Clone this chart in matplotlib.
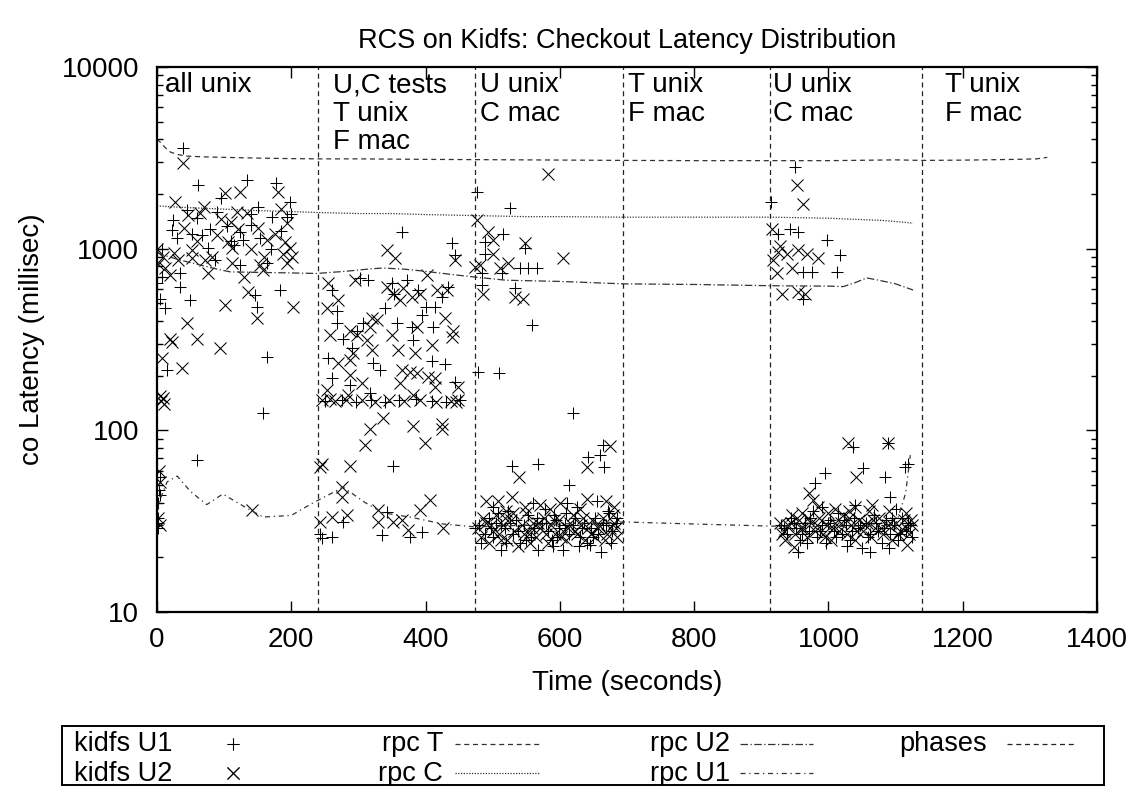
import matplotlib
matplotlib.use("Agg")
import matplotlib.pyplot as plt

plt.rcParams['font.family'] = ['Liberation Sans', 'DejaVu Sans']

# phase boundaries (seconds) and the text written at the top of each phase
phase_edges = [240, 474, 694, 913, 1139]
phase_text_x = [12, 262, 481, 701, 917, 1173]
phase_text = ["all unix", "U,C tests\nT unix\nF mac", "U unix\nC mac",
              "T unix\nF mac", "U unix\nC mac", "T unix\nF mac"]

# rpc latency curves (seconds, millisec)
rpcT_t = [0, 5, 12, 20, 30, 45, 70, 100, 150, 200, 240, 300, 400, 474, 550, 694,
          800, 913, 1000, 1100, 1139, 1200, 1280, 1310, 1326]
rpcT_ms = [4000, 3850, 3600, 3400, 3300, 3230, 3200, 3180, 3150, 3130, 3120, 3120,
           3100, 3090, 3080, 3060, 3050, 3050, 3050, 3080, 3060, 3070, 3100, 3120, 3180]

rpcC_t = [0, 20, 50, 100, 150, 200, 240, 300, 350, 400, 474, 550, 600, 694, 800,
          913, 960, 1000, 1040, 1080, 1110, 1126]
rpcC_ms = [1720, 1700, 1680, 1650, 1620, 1600, 1580, 1560, 1560, 1540, 1520, 1500,
           1500, 1490, 1490, 1490, 1480, 1470, 1450, 1430, 1400, 1380]

rpcU2_t = [0, 10, 34, 60, 90, 109, 150, 200, 238, 280, 320, 337, 370, 400, 440, 474,
           520, 600, 694, 800, 913, 960, 1000, 1022, 1040, 1057, 1075, 1100, 1126]
rpcU2_ms = [950, 920, 866, 820, 770, 745, 740, 735, 730, 750, 775, 782, 770, 750, 720,
            697, 670, 660, 640, 635, 625, 623, 622, 618, 650, 690, 670, 640, 592]

rpcU1_t = [0, 5, 15, 30, 50, 74, 98, 130, 158, 200, 232, 260, 277, 310, 337, 377,
           426, 474, 600, 694, 800, 913, 1000, 1100, 1115, 1122]
rpcU1_ms = [36, 42, 52, 56, 46, 39, 44.6, 38, 33.3, 34, 39.8, 45, 48.7, 40, 35.1, 33.3,
            30.5, 29.4, 30.5, 31.3, 30.5, 29.7, 29.5, 30, 45, 73]

# kidfs U1 checkouts (+), one list per phase: (seconds, millisec)
u1_all_unix = [(39, 3580), (61, 2240), (134, 2400), (177, 2300), (198, 1810), (45, 1630),
               (171, 1490), (194, 1490), (24, 1430), (22, 1260), (52, 1210), (124, 1230),
               (104, 1330), (79, 1290), (67, 1190), (128, 1110), (153, 1140), (76, 1010),
               (86, 866), (34, 730), (7, 700), (124, 810), (164, 830), (34, 615), (49, 521),
               (146, 555), (183, 590), (149, 475), (4, 530), (164, 253), (15, 215),
               (158, 124), (60, 69), (4, 55), (3, 47), (2, 31), (2, 29), (0, 650),
               (12, 470), (8, 1000), (150, 1700), (95, 1900), (200, 1550), (185, 1250),
               (110, 1100), (60, 1480), (90, 1600), (30, 1150), (140, 1550), (170, 1000),
               (115, 1050), (140, 1350), (2, 40), (5, 44), (1, 33)]
u1_uc_tests = [(365, 1230), (439, 1070), (444, 920), (261, 590), (268, 455), (302, 685),
               (314, 670), (350, 650), (372, 670), (389, 590), (434, 615), (414, 475),
               (411, 370), (380, 370), (357, 390), (307, 390), (298, 350), (268, 390),
               (277, 320), (381, 313), (409, 240), (429, 232), (322, 235), (261, 193),
               (332, 214), (287, 177), (444, 185), (317, 161), (352, 64), (277, 31.4),
               (246, 25.5), (261, 25.8), (243, 27), (342, 35.5), (335, 26.5), (377, 25.8),
               (395, 27.5), (474, 29), (250, 145), (275, 146), (296, 143), (318, 147),
               (340, 144), (360, 146), (385, 148), (410, 145), (430, 144), (452, 146),
               (340, 470), (395, 430), (425, 540), (255, 250), (290, 285), (353, 560),
               (400, 480)]
u1_u_unix = [(477, 2050), (526, 1670), (515, 1210), (489, 1090), (548, 1010), (489, 940),
             (541, 780), (553, 780), (566, 780), (484, 730), (514, 730), (484, 630),
             (533, 605), (558, 380), (478, 210), (509, 207), (620, 124), (664, 83),
             (642, 71), (660, 73), (666, 63), (529, 64), (567, 65), (614, 50),
             (480, 30), (488, 27), (495, 33), (500, 26), (505, 31), (512, 22), (518, 29),
             (523, 36), (530, 27), (535, 32), (540, 24), (546, 30), (552, 34), (557, 26),
             (562, 29), (568, 22), (573, 31), (578, 37), (583, 28), (588, 25), (594, 32),
             (599, 29), (604, 22), (609, 35), (614, 27), (620, 30), (625, 38), (630, 26),
             (636, 31), (641, 24), (646, 29), (652, 33), (657, 27), (662, 21.5), (668, 30),
             (673, 35), (678, 28), (683, 31), (500, 38), (560, 40), (610, 40), (655, 41),
             (520, 24), (590, 23), (645, 23.5),
             (482, 24), (497, 29), (508, 35), (526, 31), (537, 28), (549, 25), (566, 33),
             (580, 31), (596, 26), (607, 30), (622, 33), (633, 29), (649, 26), (664, 31),
             (676, 24), (685, 33), (513, 30), (591, 34), (628, 23), (671, 36)]
u1_u_unix2 = [(950, 2800), (915, 1810), (925, 1210), (943, 1290), (955, 1230), (998, 1110),
              (1017, 920), (962, 745), (975, 745), (1013, 745), (962, 530), (1037, 81),
              (1089, 85), (995, 58), (1052, 62), (1114, 63), (1084, 55), (980, 51),
              (1092, 43), (955, 21.4), (1062, 21.4), (1118, 65),
              (930, 30), (938, 27), (945, 33), (952, 29), (958, 25), (965, 31), (971, 28),
              (977, 36), (983, 26), (990, 30), (996, 24), (1002, 32), (1008, 28),
              (1014, 35), (1020, 27), (1026, 30), (1032, 25), (1038, 33), (1044, 29),
              (1050, 22.5), (1056, 31), (1062, 27), (1068, 34), (1074, 28), (1080, 24),
              (1086, 32), (1092, 27), (1098, 30), (1104, 25), (1110, 33), (1116, 28),
              (1122, 30), (990, 38), (1040, 39), (1100, 37),
              (934, 29), (948, 31), (961, 27), (973, 33), (987, 28), (999, 31), (1011, 26),
              (1023, 32), (1035, 28), (1047, 30), (1059, 26), (1071, 31), (1083, 29),
              (1095, 33), (1107, 27), (1119, 31), (1124, 26), (968, 24), (1028, 23),
              (1090, 22.5)]

# kidfs U2 checkouts (x)
u2_all_unix = [(39, 2960), (101, 2030), (124, 2050), (180, 2050), (27, 1810), (64, 1570),
               (46, 1530), (119, 1590), (134, 1570), (194, 1380), (89, 1190), (121, 1290),
               (106, 1090), (112, 1010), (164, 1110), (191, 1090), (198, 1010), (52, 985),
               (82, 895), (72, 866), (31, 866), (9, 895), (12, 780), (19, 715), (52, 885),
               (112, 830), (153, 810), (158, 760), (194, 830), (201, 895), (188, 940),
               (76, 730), (101, 490), (136, 575), (203, 475), (149, 415), (45, 390),
               (19, 320), (60, 320), (22, 307), (94, 283), (7, 250), (37, 220), (9, 150),
               (6, 145), (11, 140), (4, 155), (141, 36.5), (3, 60), (5, 52), (2, 33),
               (4, 30), (0, 1000), (2, 820), (70, 1700), (150, 1300), (175, 1200),
               (95, 1450), (40, 1300), (140, 1000), (60, 1100), (110, 1400), (185, 1650),
               (25, 950), (160, 900), (130, 700)]
u2_uc_tests = [(342, 985), (354, 885), (444, 866), (255, 650), (270, 521), (253, 470),
               (295, 670), (342, 615), (366, 605), (380, 540), (352, 565), (362, 521),
               (402, 715), (417, 590), (432, 590), (392, 565), (429, 415), (441, 350),
               (387, 370), (327, 405), (320, 415), (317, 370), (287, 350), (258, 335),
               (298, 335), (313, 313), (350, 335), (439, 325), (409, 295), (359, 276),
               (320, 276), (292, 265), (287, 243), (384, 265), (270, 235), (365, 214),
               (377, 210), (387, 207), (404, 196), (414, 193), (287, 201), (306, 182),
               (362, 182), (448, 173), (414, 173), (253, 166), (381, 156), (285, 156),
               (245, 146), (258, 148), (265, 145), (282, 147), (305, 146), (325, 144),
               (345, 147), (368, 145), (392, 146), (415, 144), (438, 145), (446, 143),
               (449, 147), (337, 117), (317, 102), (381, 105), (424, 109), (424, 102),
               (310, 83), (399, 85), (287, 64), (243, 63), (246, 65), (276, 49), (276, 43),
               (283, 34), (243, 31.4), (261, 33.3), (329, 36.5), (407, 41.3), (392, 36.5),
               (329, 31.4), (352, 31.3), (365, 32.1), (374, 28.3), (426, 29)]
u2_u_unix = [(582, 2590), (477, 1430), (493, 1230), (500, 1110), (548, 1070), (500, 940),
             (605, 885), (481, 810), (511, 780), (523, 830), (474, 795), (486, 565),
             (533, 540), (545, 530), (675, 82), (641, 63), (539, 55),
             (478, 29), (483, 26), (490, 31), (495, 24), (500, 28), (505, 34), (510, 27),
             (516, 30), (521, 25), (527, 32), (532, 28), (538, 23), (543, 30), (549, 35),
             (554, 27), (560, 31), (565, 26), (571, 29), (576, 33), (582, 24), (587, 30),
             (593, 27), (598, 32), (604, 28), (609, 25), (615, 31), (620, 34), (626, 27),
             (631, 30), (637, 25), (642, 29), (648, 32), (653, 26), (659, 30), (664, 33),
             (670, 27), (675, 29), (681, 31), (685, 26), (490, 41), (508, 41), (528, 43),
             (570, 39), (600, 40), (640, 42), (668, 41), (680, 38), (520, 36), (585, 37),
             (630, 37), (548, 38),
             (485, 33), (498, 30), (513, 25), (530, 35), (546, 27), (558, 29), (568, 31),
             (580, 27), (591, 32), (602, 26), (612, 29), (623, 28), (635, 33), (646, 27),
             (657, 29), (667, 25), (679, 34), (684, 29), (518, 33), (556, 24)]
u2_u_unix2 = [(953, 2250), (962, 1750), (916, 1290), (928, 1030), (925, 955), (938, 940),
              (955, 985), (968, 940), (985, 885), (918, 866), (946, 780), (923, 730),
              (931, 565), (955, 575), (965, 565), (1029, 85), (1089, 85), (1041, 55),
              (971, 45), (977, 41.3), (946, 34), (935, 25), (948, 22.8), (1117, 23.4),
              (928, 31), (934, 28), (940, 30), (950, 27), (956, 32), (962, 29), (968, 26),
              (974, 31), (980, 28), (986, 33), (992, 27), (998, 30), (1004, 25), (1010, 31),
              (1016, 28), (1022, 34), (1028, 27), (1034, 30), (1040, 25), (1046, 32),
              (1052, 28), (1058, 31), (1064, 26), (1070, 29), (1076, 33), (1082, 27),
              (1088, 30), (1094, 25), (1100, 31), (1106, 28), (1112, 32), (1120, 27),
              (1124, 30), (985, 38), (1010, 37), (1040, 38), (1065, 39), (1090, 36),
              (1115, 35), (1030, 36),
              (931, 27), (944, 31), (959, 29), (970, 33), (983, 30), (995, 26), (1007, 29),
              (1019, 31), (1031, 33), (1043, 28), (1055, 30), (1067, 32), (1079, 29),
              (1091, 31), (1103, 27), (1115, 29), (1123, 32), (960, 35), (1000, 35),
              (1060, 36)]

u1 = u1_all_unix + u1_uc_tests + u1_u_unix + u1_u_unix2
u2 = u2_all_unix + u2_uc_tests + u2_u_unix + u2_u_unix2

fig = plt.figure(figsize=(11.37, 7.86), dpi=100)
ax = fig.add_axes([0.1381, 0.2214, 0.8267, 0.6934])

pt_style = dict(linestyle='none', color='black', markersize=9, markeredgewidth=0.75)
ax.plot([p[0] for p in u1], [p[1] for p in u1], marker='+', **pt_style)
ax.plot([p[0] for p in u2], [p[1] for p in u2], marker='x', **pt_style)

ln_style = dict(color='#333333', linewidth=0.9)
ax.plot(rpcT_t, rpcT_ms, linestyle=(0, (4, 3)), **ln_style)
ax.plot(rpcC_t, rpcC_ms, linestyle=(0, (1, 1.2)), **ln_style)
ax.plot(rpcU2_t, rpcU2_ms, linestyle=(0, (6, 2, 1, 2)), **ln_style)
ax.plot(rpcU1_t, rpcU1_ms, linestyle=(0, (4, 3, 1, 3)), **ln_style)

for x in phase_edges:
    ax.axvline(x, color='#222222', linewidth=0.9, linestyle=(0, (4, 3)))

for x, s in zip(phase_text_x, phase_text):
    ax.text(x, 0.99, s, transform=ax.get_xaxis_transform(), ha='left', va='top',
            fontsize=20, linespacing=1.12)

ax.set_yscale('log')
ax.set_xlim(0, 1400)
ax.set_ylim(10, 10000)
ax.set_xticks(range(0, 1401, 200))
ax.set_yticks([10, 100, 1000, 10000])
ax.set_yticklabels(['10', '100', '1000', '10000'])
ax.tick_params(which='both', direction='in', top=True, right=True, labelsize=20)
ax.tick_params(which='major', length=8, width=1)
ax.tick_params(which='minor', length=4, width=1)
ax.tick_params(axis='x', pad=11)
ax.tick_params(axis='y', pad=13)
for sp in ax.spines.values():
    sp.set_linewidth(1.6)

ax.set_xlabel('Time (seconds)', fontsize=20, labelpad=12)
ax.set_ylabel('co Latency (millisec)', fontsize=20, labelpad=12)
ax.set_title('RCS on Kidfs: Checkout Latency Distribution', fontsize=19.5, pad=14)

# key box below the plot, gnuplot style: label then sample
key_left, key_right, key_top, key_bottom = 62, 1104, 726, 785
key = fig.add_axes([key_left / 1137, 1 - key_bottom / 786,
                    (key_right - key_left) / 1137, (key_bottom - key_top) / 786])
key.set_xlim(key_left, key_right)
key.set_ylim(key_bottom, key_top)
key.set_xticks([])
key.set_yticks([])
for sp in key.spines.values():
    sp.set_linewidth(1.4)

key_labels = ['kidfs U1', 'kidfs U2', 'rpc T', 'rpc C', 'rpc U2', 'rpc U1', 'phases']
key_label_right = [172, 172, 443, 443, 730, 730, 987]
key_base_y = [751, 781, 751, 781, 751, 781, 751]
key_mark_y = [744, 773, 744, 773, 744, 773, 744]
key_sample = [(233, 233), (233, 233), (455, 540), (455, 540), (740, 813), (740, 813),
              (1007, 1077)]
key_style = [dict(marker='+', linestyle='none', color='black', markersize=9, markeredgewidth=0.75),
             dict(marker='x', linestyle='none', color='black', markersize=8, markeredgewidth=0.75),
             dict(linestyle=(0, (4, 3)), **ln_style),
             dict(linestyle=(0, (1, 1.2)), **ln_style),
             dict(linestyle=(0, (6, 2, 1, 2)), **ln_style),
             dict(linestyle=(0, (4, 3, 1, 3)), **ln_style),
             dict(linestyle=(0, (4, 3)), color='#222222', linewidth=0.9)]
for lab, xr, yb, ym, (s0, s1), st in zip(key_labels, key_label_right, key_base_y,
                                         key_mark_y, key_sample, key_style):
    key.text(xr, yb, lab, ha='right', va='baseline', fontsize=19.5)
    key.plot([s0, s1], [ym, ym], **st)

fig.savefig('out.png', dpi=100)
